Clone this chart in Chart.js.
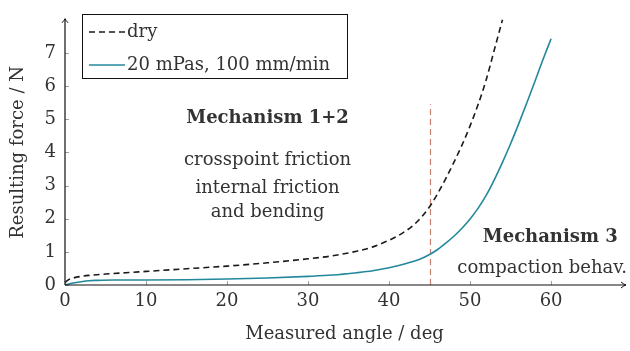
<!DOCTYPE html>
<html>
<head>
<meta charset="utf-8">
<script src="https://cdn.jsdelivr.net/npm/chart.js@4.4.0/dist/chart.umd.min.js"></script>
<style>
  body { margin: 0; background: #fff; }
  #wrap { width: 630px; height: 351px; }
</style>
</head>
<body>
<div id="wrap"><canvas id="forceChart"></canvas></div>
<script>
// dry fabric
const dryAngle = [0, 0.5, 1, 2, 3, 5, 7.5, 10, 15, 20, 25, 30, 33, 36, 38, 40, 41, 42, 43, 44, 45, 46, 47, 48, 49, 50, 51, 52, 53, 54];
const dryForce = [0.08, 0.17, 0.21, 0.26, 0.29, 0.33, 0.37, 0.41, 0.49, 0.57, 0.67, 0.79, 0.88, 1.02, 1.15, 1.35, 1.47, 1.62, 1.8, 2.05, 2.36, 2.76, 3.21, 3.7, 4.22, 4.8, 5.45, 6.2, 7.1, 8.0];

// 20 mPas, 100 mm/min
const wetAngle = [0, 1, 2, 3, 4, 6, 10, 15, 20, 25, 30, 33, 36, 38, 40, 42, 44, 45, 46, 47, 48, 49, 50, 51, 52, 53, 54, 55, 56, 57, 58, 59, 60];
const wetForce = [0, 0.06, 0.1, 0.13, 0.14, 0.15, 0.15, 0.16, 0.18, 0.21, 0.26, 0.3, 0.37, 0.43, 0.52, 0.64, 0.8, 0.92, 1.07, 1.26, 1.47, 1.71, 1.99, 2.32, 2.71, 3.18, 3.7, 4.26, 4.86, 5.49, 6.14, 6.8, 7.43];

const xTicks = [0, 10, 20, 30, 40, 50, 60];
const yTicks = [0, 1, 2, 3, 4, 5, 6, 7];

const boundaryAngle = 45;
const boundaryTop = 5.45;

const serif = "'DejaVu Serif', serif";
const ink = "#333";
const teal = "#23889b";

function toPoints(xs, ys) {
  return xs.map((x, i) => ({ x: x, y: ys[i] }));
}

// axes with arrow heads, tick marks, the 45 deg boundary, notes and legend
const decorations = {
  id: "decorations",
  beforeDatasetsDraw(chart) {
    const ctx = chart.ctx;
    const xs = chart.scales.x, ys = chart.scales.y;
    const bx = Math.round(xs.getPixelForValue(boundaryAngle)) + 0.5;
    ctx.save();
    ctx.strokeStyle = "#c7806f";
    ctx.lineWidth = 1.2;
    ctx.setLineDash([6, 4]);
    ctx.beginPath();
    ctx.moveTo(bx, ys.getPixelForValue(0));
    ctx.lineTo(bx, ys.getPixelForValue(boundaryTop));
    ctx.stroke();
    ctx.restore();
  },
  afterDraw(chart) {
    const ctx = chart.ctx;
    const a = chart.chartArea;
    const xs = chart.scales.x, ys = chart.scales.y;
    const x0 = xs.getPixelForValue(0), y0 = ys.getPixelForValue(0);

    ctx.save();
    // tick marks
    ctx.strokeStyle = "#888";
    ctx.lineWidth = 0.8;
    ctx.beginPath();
    xTicks.forEach(v => {
      const px = Math.round(xs.getPixelForValue(v)) + 0.5;
      ctx.moveTo(px, y0);
      ctx.lineTo(px, y0 - 4);
    });
    yTicks.forEach(v => {
      const py = Math.round(ys.getPixelForValue(v)) + 0.5;
      ctx.moveTo(x0, py);
      ctx.lineTo(x0 + 4, py);
    });
    ctx.stroke();

    // axis lines
    ctx.strokeStyle = "#111";
    ctx.lineWidth = 1.2;
    ctx.beginPath();
    ctx.moveTo(x0, y0);
    ctx.lineTo(a.right + 2, y0);
    ctx.moveTo(x0, y0);
    ctx.lineTo(x0, a.top - 1);
    ctx.stroke();
    // arrow heads
    ctx.lineWidth = 1;
    ctx.beginPath();
    ctx.moveTo(a.right - 3, y0 - 3);
    ctx.quadraticCurveTo(a.right, y0 - 0.5, a.right + 2, y0);
    ctx.quadraticCurveTo(a.right, y0 + 0.5, a.right - 3, y0 + 3);
    ctx.moveTo(x0 - 3, a.top + 3);
    ctx.quadraticCurveTo(x0 - 0.5, a.top, x0, a.top - 1);
    ctx.quadraticCurveTo(x0 + 0.5, a.top, x0 + 3, a.top + 3);
    ctx.stroke();

    // mechanism notes
    ctx.fillStyle = ink;
    ctx.textAlign = "center";
    ctx.textBaseline = "middle";
    const note = (txt, x, y, bold) => {
      ctx.font = (bold ? "bold " : "") + "18px " + serif;
      ctx.fillText(txt, xs.getPixelForValue(x), ys.getPixelForValue(y));
    };
    note("Mechanism 1+2", 25.0, 5.03, true);
    note("crosspoint friction", 25.0, 3.77, false);
    note("internal friction", 25.0, 2.91, false);
    note("and bending", 25.0, 2.2, false);
    note("Mechanism 3", 59.9, 1.45, true);
    note("compaction behav.", 58.9, 0.5, false);

    // legend
    const lx = 82, ly = 14, lw = 265, lh = 64;
    ctx.fillStyle = "#fff";
    ctx.fillRect(lx, ly, lw, lh);
    ctx.strokeStyle = "#111";
    ctx.lineWidth = 1;
    ctx.strokeRect(lx + 0.5, ly + 0.5, lw, lh);
    chart.data.datasets.forEach((ds, i) => {
      const rowY = ly + 18 + i * 33;
      ctx.strokeStyle = ds.borderColor;
      ctx.lineWidth = ds.borderWidth;
      ctx.setLineDash(ds.borderDash || []);
      ctx.beginPath();
      ctx.moveTo(lx + 7, rowY);
      ctx.lineTo(lx + 43, rowY);
      ctx.stroke();
      ctx.setLineDash([]);
      ctx.fillStyle = ink;
      ctx.textAlign = "left";
      ctx.font = "18px " + serif;
      ctx.fillText(ds.label, lx + 45, rowY);
    });
    ctx.restore();
  }
};

new Chart(document.getElementById("forceChart"), {
  type: "line",
  data: {
    datasets: [{
      label: "dry",
      data: toPoints(dryAngle, dryForce),
      borderColor: "#1a1a1a",
      borderWidth: 1.6,
      borderDash: [6, 4],
      pointRadius: 0,
      cubicInterpolationMode: "monotone",
      clip: false
    }, {
      label: "20 mPas, 100 mm/min",
      data: toPoints(wetAngle, wetForce),
      borderColor: teal,
      borderWidth: 1.6,
      pointRadius: 0,
      cubicInterpolationMode: "monotone",
      clip: false
    }]
  },
  options: {
    responsive: true,
    maintainAspectRatio: false,
    animation: false,
    layout: { padding: { top: 5, right: 6, left: 0, bottom: 0 } },
    plugins: { legend: { display: false }, tooltip: { enabled: false } },
    scales: {
      x: {
        type: "linear",
        min: 0,
        max: 69,
        afterFit(scale) { scale.height = 66; },
        afterBuildTicks(scale) { scale.ticks = xTicks.map(v => ({ value: v })); },
        grid: { display: false, drawTicks: false },
        border: { display: false },
        ticks: { color: ink, padding: 6, font: { family: serif, size: 18 }, maxRotation: 0 },
        title: {
          display: true,
          text: "Measured angle / deg",
          color: ink,
          font: { family: serif, size: 18 },
          padding: { top: 0, bottom: 6 }
        }
      },
      y: {
        min: 0,
        max: 8,
        afterFit(scale) { scale.width = 65; },
        afterBuildTicks(scale) { scale.ticks = yTicks.map(v => ({ value: v })); },
        grid: { display: false, drawTicks: false },
        border: { display: false },
        ticks: { color: ink, padding: 9, font: { family: serif, size: 18 } },
        title: {
          display: true,
          text: "Resulting force / N",
          color: ink,
          font: { family: serif, size: 18 },
          padding: { top: 8, bottom: 0 }
        }
      }
    }
  },
  plugins: [decorations]
});
</script>
</body>
</html>
